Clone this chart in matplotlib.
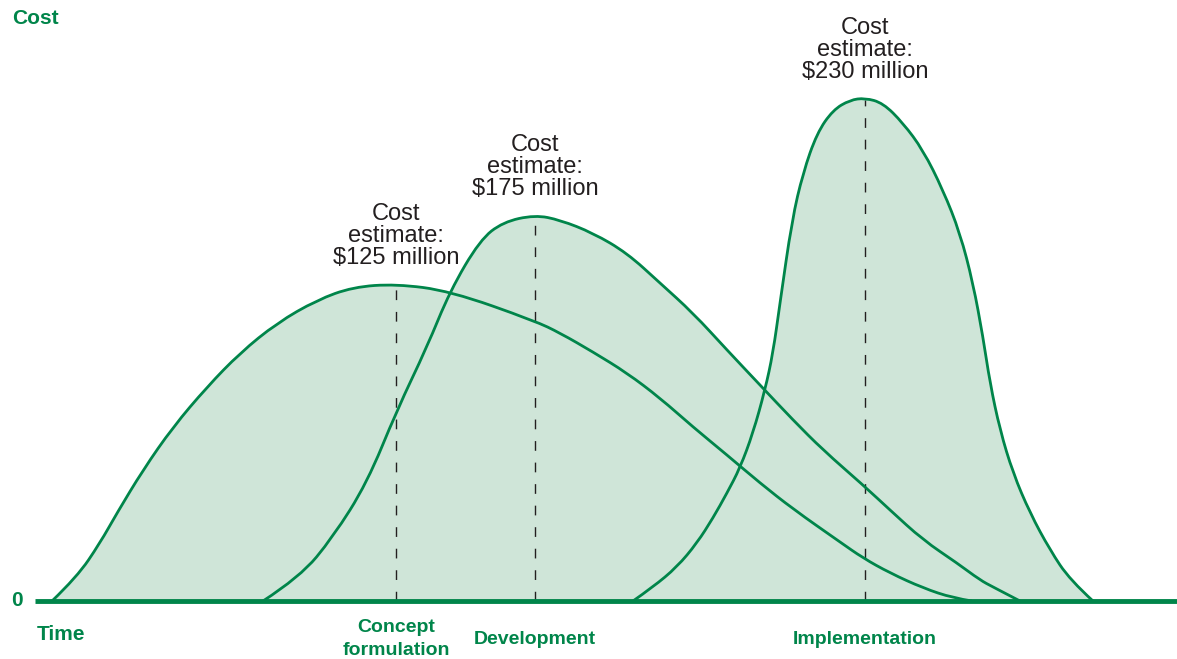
import numpy as np
import matplotlib
matplotlib.use("Agg")
import matplotlib.pyplot as plt
from matplotlib.path import Path
from matplotlib.patches import PathPatch

# phase curves (time units, cost units above the zero line)
concept_time = [52, 77, 100, 117, 143, 173, 207, 240, 277, 317, 353, 396, 450,
                535, 560, 593, 627, 660, 693, 727, 760, 793, 840, 863, 890, 923,
                953, 972]
concept_cost = [0, 24, 58, 88, 131, 174, 214, 248, 278, 301, 314, 317, 310,
                280, 268, 249, 228, 203, 174, 146, 118, 92, 59, 43, 28, 13,
                3, 0]

develop_time = [263, 300, 333, 367, 397, 427, 450, 480, 503, 535, 560, 593, 627,
                660, 693, 727, 760, 793, 823, 863, 890, 923, 957, 980, 993, 1020]
develop_cost = [0, 24, 64, 118, 191, 254, 310, 361, 379, 386, 381, 368, 348,
                318, 288, 251, 216, 181, 151, 116, 91, 61, 38, 21, 14, 0]

implement_time = [633, 653, 677, 697, 713, 727, 740, 753, 765, 773, 780, 792,
                  803, 817, 833, 850, 865, 883, 903, 923, 943, 960, 973, 983, 990,
                  1000, 1013, 1030, 1050, 1070, 1093]
implement_cost = [0, 14, 34, 58, 83, 108, 133, 168, 211, 248, 298, 381,
                  428, 468, 491, 501, 503, 498, 478, 451, 411, 368, 318, 264, 218,
                  171, 128, 88, 51, 21, 0]

phase_names = ["Concept\nformulation", "Development", "Implementation"]
estimates = ["$125 million", "$175 million", "$230 million"]

GREEN = "#00854a"
FILL = "#cfe5d8"
DARK = "#231f20"

plt.rcParams['font.family'] = ['Liberation Sans', 'DejaVu Sans']


def curve_path(t, c, closed=False):
    # quadratic bezier through the read points (points act as control points)
    pts = np.column_stack([t, c]).astype(float)
    verts = [pts[0]]
    codes = [Path.MOVETO]
    for i in range(1, len(pts) - 2):
        verts += [pts[i], (pts[i] + pts[i + 1]) / 2]
        codes += [Path.CURVE3, Path.CURVE3]
    verts += [pts[-2], pts[-1]]
    codes += [Path.CURVE3, Path.CURVE3]
    if closed:
        verts += [pts[0], pts[0]]
        codes += [Path.LINETO, Path.CLOSEPOLY]
    return Path(verts, codes)


fig = plt.figure(figsize=(11.77, 6.59), dpi=100)
ax = fig.add_axes([0, 0, 1, 1])
ax.set_xlim(0, 1177)
ax.set_ylim(-58, 601)
ax.axis('off')

series = [(concept_time, concept_cost),
          (develop_time, develop_cost),
          (implement_time, implement_cost)]

# fills first so every outline stays visible on top
for t, c in series:
    ax.add_patch(PathPatch(curve_path(t, c, closed=True), facecolor=FILL,
                           edgecolor='none', lw=0, zorder=1))

for i, (t, c) in enumerate(series):
    t = np.array(t)
    c = np.array(c)
    k = int(np.argmax(c))
    ax.vlines(t[k], 0, c[k] - 1.5, colors=DARK, lw=1.0,
              linestyles=(0, (7, 8.5)), zorder=2)
    ax.add_patch(PathPatch(curve_path(t, c), facecolor='none', edgecolor=GREEN,
                           lw=2.0, joinstyle='round', zorder=3))
    ax.text(t[k], c[k] + 48, "Cost\nestimate:\n" + estimates[i],
            ha='center', va='center', fontsize=17, color=DARK, linespacing=1.0)
    ax.text(t[k], -38, phase_names[i], ha='center', va='center',
            fontsize=14, fontweight='bold', color=GREEN, linespacing=1.45)

# baseline axis
ax.plot([35, 1177], [0, 0], color=GREEN, lw=3.5, solid_capstyle='butt', zorder=4)

ax.text(12, 601 - 18, "Cost", ha='left', va='center', fontsize=15,
        fontweight='bold', color=GREEN)
ax.text(17, 0, "0", ha='center', va='center', fontsize=15,
        fontweight='bold', color=GREEN)
ax.text(37, -33, "Time", ha='left', va='center', fontsize=15,
        fontweight='bold', color=GREEN)

fig.savefig("out.png", dpi=100)
